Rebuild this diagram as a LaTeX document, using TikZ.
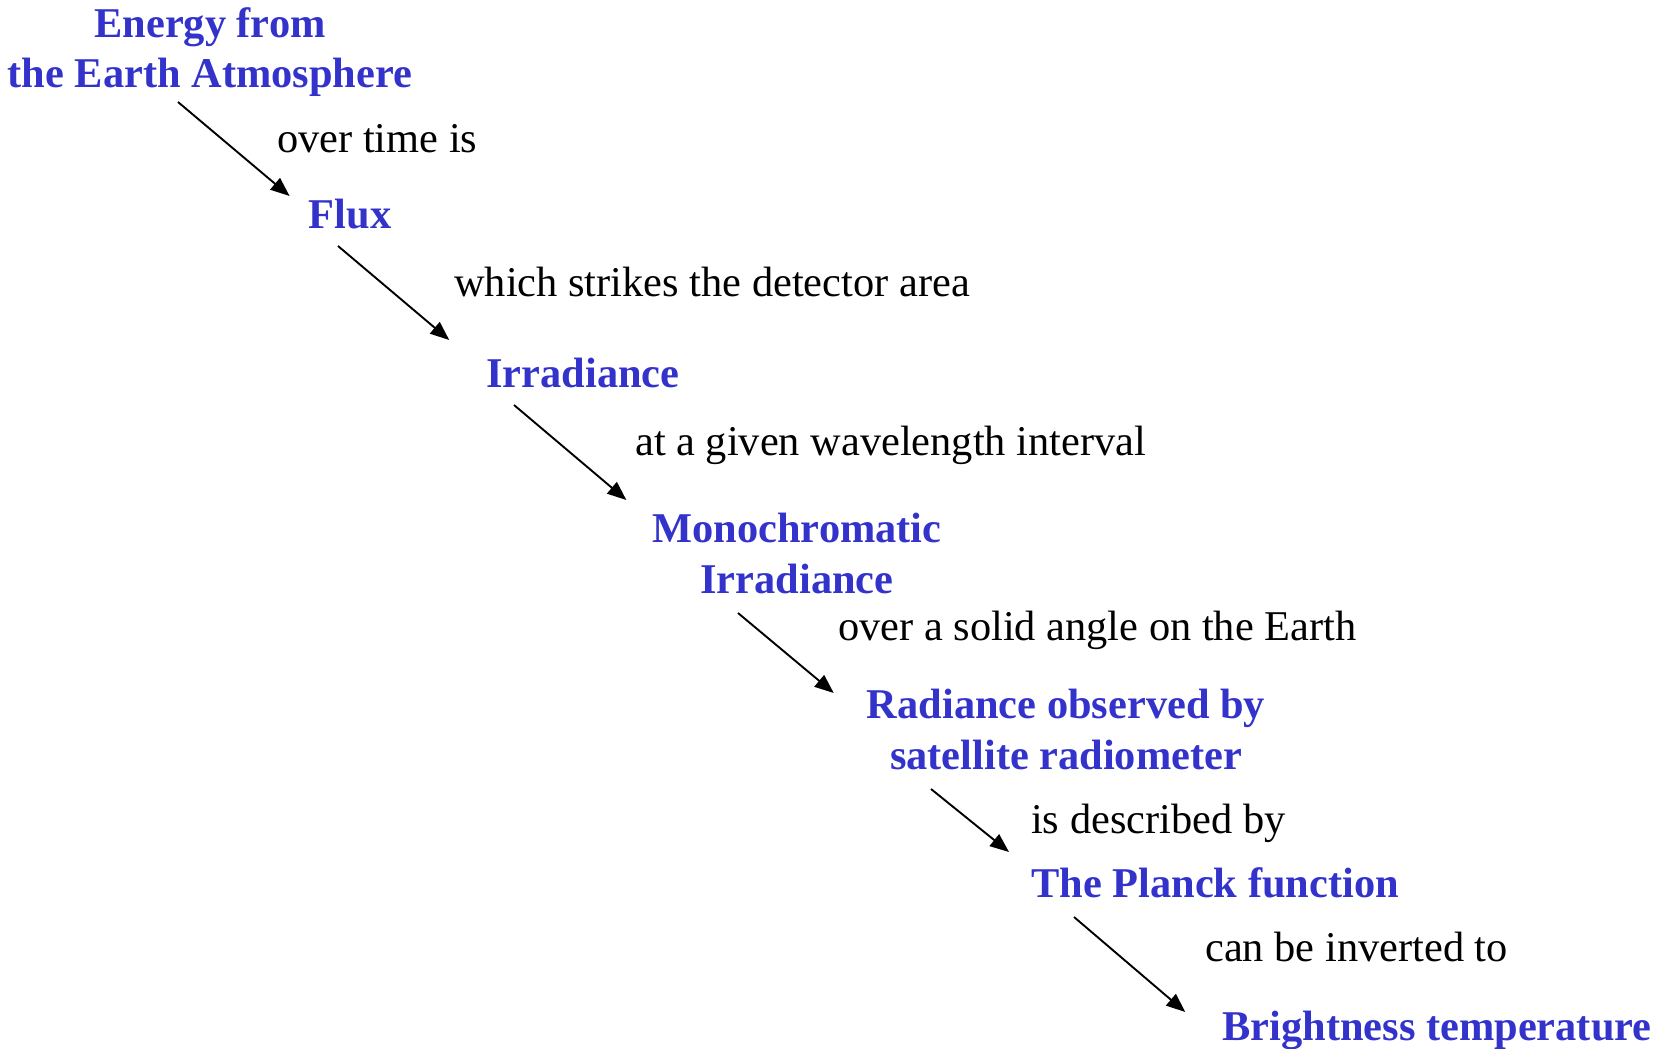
\documentclass[tikz,border=0pt]{standalone}
\usepackage{fontspec}
\setmainfont{Liberation Serif}
\usepackage{xcolor}
\usetikzlibrary{arrows.meta,calc}
\definecolor{conceptblue}{RGB}{51,51,204}

\begin{document}
\begin{tikzpicture}[
    x=1pt, y=-1pt,
    concept/.style={text=conceptblue, font=\bfseries\fontsize{42.4}{51}\selectfont, align=center, inner sep=0pt, anchor=base},
    link/.style={text=black, font=\fontsize{42.4}{51}\selectfont, inner sep=0pt, anchor=base west},
    arrow/.style={-{Triangle[length=19pt, width=15pt]}, line width=1.9pt}
]
\useasboundingbox (0,0) rectangle (1668,1049);

\node[concept] (energy) at (210,88) {Energy from\\the Earth Atmosphere};
\node[concept] (flux) at (350,228) {Flux};
\node[concept] (irr) at (583,387) {Irradiance};
\node[concept] (mono) at (797,593) {Monochromatic\\Irradiance};
\node[concept] (rad) at (1066,769) {Radiance observed by\\satellite radiometer};
\node[concept] (planck) at (1215,897) {The Planck function};
\node[concept] (bright) at (1437,1040) {Brightness temperature};

\node[link] (overtime) at (277,152) {over time is};
\node[link] (strikes) at (454,296) {which strikes the detector area};
\node[link] (interval) at (635,455) {at a given wavelength interval};
\node[link] (solid) at (838,640) {over a solid angle on the Earth};
\node[link] (described) at (1031,833) {is described by};
\node[link] (inverted) at (1205,961) {can be inverted to};

\draw[arrow] ($(energy.base)+(-32,14)$) -- ($(flux.base west)+(-19,-32)$);
\draw[arrow] ($(flux.base)+(-12,18)$) -- ($(irr.base west)+(-37,-47)$);
\draw[arrow] ($(irr.base)+(-69,18)$) -- ($(mono.base west)+(-26,-93)$);
\draw[arrow] ($(mono.base)+(-59,20)$) -- ($(rad.base west)+(-33,-76)$);
\draw[arrow] ($(rad.base)+(-135,20)$) -- ($(planck.base west)+(-22,-45)$);
\draw[arrow] ($(planck.base)+(-141,20)$) -- ($(bright.base west)+(-37,-28)$);
\end{tikzpicture}
\end{document}
